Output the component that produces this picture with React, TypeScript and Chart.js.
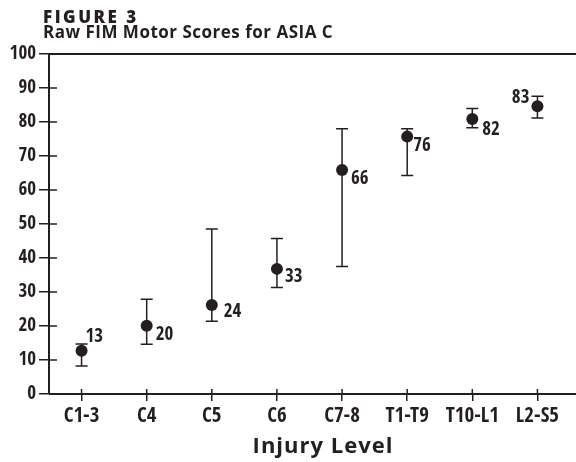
import React, { useEffect, useRef } from 'react';
import { Chart, registerables } from 'chart.js';

Chart.register(...registerables);

// ---- data ----
const categories = ['C1-3', 'C4', 'C5', 'C6', 'C7-8', 'T1-T9', 'T10-L1', 'L2-S5'];
const meanScores = [12.7, 20.1, 26.2, 36.8, 65.9, 75.7, 80.9, 84.6];
const lowerBounds = [8.2, 14.6, 21.4, 31.3, 37.5, 64.3, 78.3, 81.2];
const upperBounds = [14.7, 27.9, 48.5, 45.7, 78.0, 78.0, 84.0, 87.6];
const valueLabels = ['13', '20', '24', '33', '66', '76', '82', '83'];
const yMin = 0;
const yMax = 100;
const yStep = 10;

const figureLabel = 'FIGURE 3';
const chartTitle = 'Raw FIM Motor Scores for ASIA C';
const xAxisTitle = 'Injury Level';

// ---- style ----
const INK = '#231f20';
const NARROW = '"Open Sans Condensed", "Liberation Sans Narrow", sans-serif';
const SANS = '"Open Sans", "Noto Sans", sans-serif';
// label placement relative to the point: [dx, dy (cap centre), align]
const labelPlacement: [number, number, CanvasTextAlign][] = [
  [4, -16, 'left'],
  [9, 8, 'left'],
  [12, 5.5, 'left'],
  [8, 6, 'left'],
  [9, 7, 'left'],
  [6, 8, 'left'],
  [10, 9, 'left'],
  [-8, -10, 'right'],
];

const decorPlugin = {
  id: 'decor',
  beforeDatasetsDraw(chart: any) {
    const { ctx } = chart;
    const x = chart.scales.x;
    const y = chart.scales.y;
    ctx.save();
    ctx.strokeStyle = INK;
    ctx.lineWidth = 1.5;
    categories.forEach((_, i) => {
      const px = x.getPixelForValue(i);
      const yt = y.getPixelForValue(upperBounds[i]);
      const yb = y.getPixelForValue(lowerBounds[i]);
      ctx.beginPath();
      ctx.moveTo(px, yt);
      ctx.lineTo(px, yb);
      ctx.moveTo(px - 6, yt);
      ctx.lineTo(px + 6, yt);
      ctx.moveTo(px - 6, yb);
      ctx.lineTo(px + 6, yb);
      ctx.stroke();
    });
    ctx.restore();
  },
  afterDraw(chart: any) {
    const { ctx, chartArea } = chart;
    const x = chart.scales.x;
    const y = chart.scales.y;
    const W = chart.width;
    ctx.save();
    ctx.strokeStyle = INK;
    ctx.lineWidth = 2;
    ctx.beginPath();
    ctx.moveTo(chartArea.left, chartArea.top);
    ctx.lineTo(W, chartArea.top);
    ctx.moveTo(chartArea.left, chartArea.bottom);
    ctx.lineTo(W, chartArea.bottom);
    ctx.stroke();
    ctx.lineWidth = 1.5;
    ctx.beginPath();
    for (let v = yMin; v <= yMax; v += yStep) {
      const py = y.getPixelForValue(v);
      ctx.moveTo(chartArea.left, py);
      ctx.lineTo(chartArea.left + 8, py);
    }
    categories.forEach((_, i) => {
      const px = x.getPixelForValue(i);
      ctx.moveTo(px, chartArea.bottom);
      ctx.lineTo(px, chartArea.bottom - 5);
    });
    ctx.stroke();

    ctx.fillStyle = INK;
    ctx.font = `800 19px ${NARROW}`;
    ctx.textBaseline = 'alphabetic';
    valueLabels.forEach((lab, i) => {
      const px = x.getPixelForValue(i);
      const py = y.getPixelForValue(meanScores[i]);
      const [dx, dy, al] = labelPlacement[i];
      ctx.textAlign = al;
      ctx.fillText(lab, px + dx, py + dy + 6.8);
    });

    ctx.textAlign = 'left';
    ctx.font = `800 17px ${SANS}`;
    try { (ctx as any).letterSpacing = '2.5px'; } catch (e) {}
    ctx.fillText(figureLabel, 43, 23);
    try { (ctx as any).letterSpacing = '0.5px'; } catch (e) {}
    ctx.font = `bold 17px ${SANS}`;
    ctx.fillText(chartTitle, 43, 38);

    try { (ctx as any).letterSpacing = '1px'; } catch (e) {}
    ctx.textAlign = 'center';
    ctx.font = `bold 22px ${SANS}`;
    ctx.fillText(xAxisTitle, 323, 453);
    try { (ctx as any).letterSpacing = '0px'; } catch (e) {}
    ctx.restore();
  },
};

export default function App() {
  const ref = useRef<HTMLCanvasElement | null>(null);
  useEffect(() => {
    if (!ref.current) return;
    const chart = new Chart(ref.current, {
      type: 'line',
      data: {
        labels: categories,
        datasets: [
          {
            data: meanScores,
            showLine: false,
            pointRadius: 6,
            pointHoverRadius: 6,
            pointBackgroundColor: INK,
            pointBorderColor: INK,
            pointBorderWidth: 0,
          },
        ],
      },
      options: {
        responsive: false,
        animation: false,
        layout: { padding: { top: 54, right: 3, left: 0, bottom: 0 } },
        plugins: {
          legend: { display: false },
          title: { display: false },
          tooltip: { enabled: false },
        },
        scales: {
          x: {
            type: 'category',
            offset: true,
            grid: {
              offset: false,
              drawOnChartArea: false,
              drawTicks: true,
              tickLength: 7,
              color: INK,
              lineWidth: 1.5,
            },
            border: { display: false },
            ticks: {
              color: INK,
              font: { family: NARROW, size: 21, weight: '800' },
              padding: 3,
              maxRotation: 0,
              autoSkip: false,
            },
            afterFit: (s: any) => {
              s.height = 68;
            },
          },
          y: {
            min: yMin,
            max: yMax,
            grid: {
              drawOnChartArea: false,
              drawTicks: true,
              tickLength: 10,
              color: INK,
              lineWidth: 1.5,
            },
            border: { display: true, color: INK, width: 2 },
            ticks: {
              stepSize: yStep,
              color: INK,
              font: { family: NARROW, size: 19, weight: '800' },
              padding: 3,
            },
            afterFit: (s: any) => {
              s.width = 49;
            },
          },
        },
      } as any,
      plugins: [decorPlugin],
    });
    return () => chart.destroy();
  }, []);
  return (
    <div style={{ position: 'absolute', left: 0, top: 0, width: 576, height: 462, background: '#fff' }}>
      <canvas ref={ref} width={576} height={462} />
    </div>
  );
}
